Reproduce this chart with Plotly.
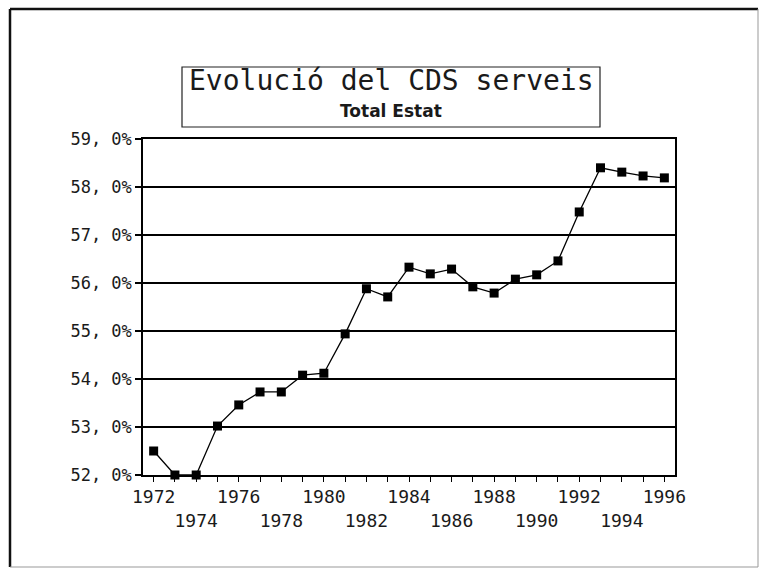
import plotly.graph_objects as go

# Share of services in total value added (CDS), whole state, 1972-1996
years = list(range(1972, 1997))
cds_serveis = [52.50, 52.00, 52.00, 53.02, 53.46, 53.73, 53.73, 54.08, 54.12,
               54.94, 55.88, 55.71, 56.33, 56.19, 56.29, 55.92, 55.79, 56.08,
               56.17, 56.46, 57.48, 58.40, 58.31, 58.23, 58.19]

y_ticks = [52, 53, 54, 55, 56, 57, 58, 59]
y_tick_labels = [f"{v}, 0%" for v in y_ticks]

# even years are labelled, alternating between two rows
x_tick_labels = []
for yr in years:
    if yr % 2:
        x_tick_labels.append("")
    elif (yr - 1972) % 4 == 0:
        x_tick_labels.append(str(yr))
    else:
        x_tick_labels.append(" <br>" + str(yr))

title_text = "Evolució del CDS serveis"
subtitle_text = "Total Estat"

W, H = 760, 570
L, R, T, B = 143, 85, 139, 95
pw, ph = W - L - R, H - T - B


def px_to_paper_x(px):
    return (px - L) / pw


def px_to_paper_y(py):
    return (H - B - py) / ph


mono = "DejaVu Sans Mono"
ink = "#1a1a1a"

fig = go.Figure()
fig.add_trace(go.Scatter(
    x=years, y=cds_serveis, mode="lines+markers",
    line=dict(color="black", width=1.3),
    marker=dict(symbol="square", size=9, color="black"),
    showlegend=False, cliponaxis=False,
))

fig.update_layout(
    width=W, height=H,
    margin=dict(l=L, r=R, t=T, b=B),
    paper_bgcolor="white", plot_bgcolor="white",
    font=dict(family=mono, size=16, color=ink),
    xaxis=dict(
        range=[1971.5, 1996.5], tickvals=years, ticktext=x_tick_labels,
        tickangle=0, ticks="outside", ticklen=5, tickwidth=1, tickcolor="black",
        showgrid=False, zeroline=False, showline=True, linecolor="black",
        linewidth=1.5, mirror=True, tickfont=dict(family=mono, size=18, color=ink),
    ),
    yaxis=dict(
        range=[52, 59], tickvals=y_ticks, ticktext=y_tick_labels,
        ticks="outside", ticklen=6, tickwidth=1.5, tickcolor="black",
        showgrid=True, gridcolor="black", gridwidth=1.5, zeroline=False,
        showline=True, linecolor="black", linewidth=1.5, mirror=True,
        tickfont=dict(family=mono, size=17, color=ink),
    ),
)

# outer frame of the sheet: dark left/top edges, lighter right/bottom edges
frame = [
    ((10, 9), (10, 567), "#111", 2.5),
    ((10, 9), (758, 9), "#111", 2.5),
    ((758, 9), (758, 567), "#999", 1),
    ((10, 567), (758, 567), "#999", 1),
]
for (xa, ya), (xb, yb), col, w in frame:
    fig.add_shape(type="line", xref="paper", yref="paper",
                  x0=px_to_paper_x(xa), y0=px_to_paper_y(ya),
                  x1=px_to_paper_x(xb), y1=px_to_paper_y(yb),
                  line=dict(color=col, width=w))

# title box
fig.add_shape(type="rect", xref="paper", yref="paper",
              x0=px_to_paper_x(182), x1=px_to_paper_x(600),
              y0=px_to_paper_y(127), y1=px_to_paper_y(67),
              line=dict(color="#222", width=1.2), fillcolor="white")

fig.add_annotation(text=title_text, xref="paper", yref="paper",
                   x=px_to_paper_x(391), y=px_to_paper_y(81),
                   showarrow=False, xanchor="center", yanchor="middle",
                   font=dict(family=mono, size=28, color=ink))
fig.add_annotation(text=f"<b>{subtitle_text}</b>", xref="paper", yref="paper",
                   x=px_to_paper_x(391), y=px_to_paper_y(111),
                   showarrow=False, xanchor="center", yanchor="middle",
                   font=dict(family="DejaVu Sans", size=17, color=ink))

fig.write_html("out.html")
